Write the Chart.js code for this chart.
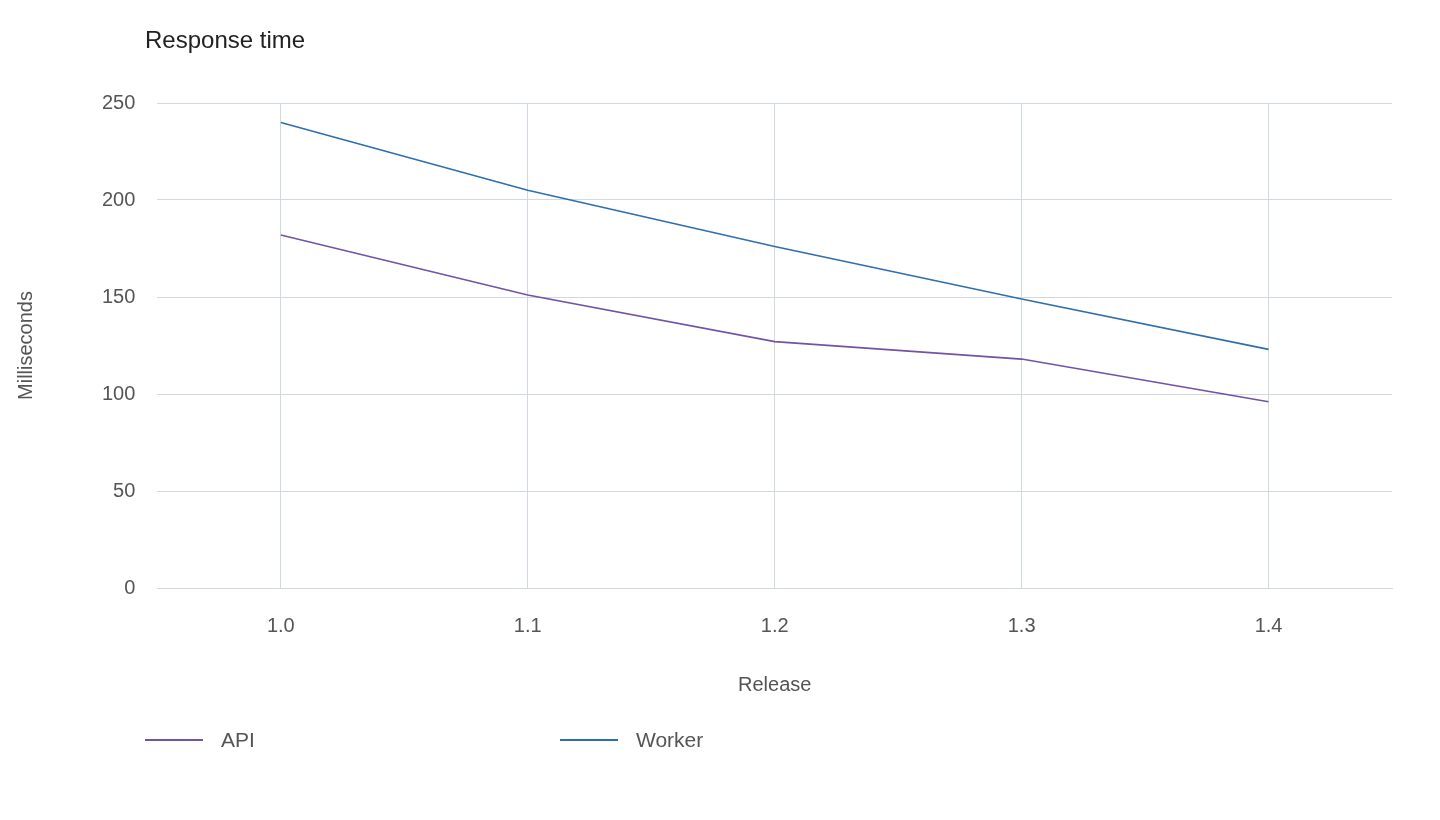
<!DOCTYPE html>
<html><head><meta charset="utf-8">
<script src="https://cdn.jsdelivr.net/npm/chart.js@4"></script>
<style>
body{margin:0;background:#fff;font-family:"Helvetica Neue",Arial,"Liberation Sans",sans-serif;}
#wrap{position:relative;width:1440px;height:820px;}
#title{position:absolute;left:145px;top:26px;font-size:24px;color:#222;}
#legend{position:absolute;top:728px;left:145px;font-size:21px;color:#555;}
.item{position:absolute;white-space:nowrap;display:flex;align-items:center;}
.sw{display:inline-block;width:58px;height:2px;margin-right:18px;}
canvas{position:absolute;left:0;top:0;}
</style></head><body>
<div id="wrap">
<canvas id="c" width="1440" height="820"></canvas>
<div id="title">Response time</div>
<div id="legend"></div>
</div>
<script>
const categories=["1.0","1.1","1.2","1.3","1.4"];
const apiValues=[182,151,127,118,96];
const workerValues=[240,205,176,149,123];
const seriesNames=["API","Worker"];
const colors=["#7352a8","#2f6fae"];
const lg=document.getElementById('legend');
[[0,0],[1,415]].forEach(([i,x])=>{const d=document.createElement('div');d.className='item';d.style.left=x+'px';d.innerHTML='<span class="sw" style="background:'+colors[i]+'"></span>'+seriesNames[i];lg.appendChild(d);});
Chart.defaults.font.family='"Helvetica Neue",Arial,"Liberation Sans",sans-serif';
new Chart(document.getElementById('c'),{type:'line',
data:{labels:categories,datasets:[
{label:seriesNames[0],data:apiValues,borderColor:colors[0],borderWidth:1.6,pointRadius:0,tension:0},
{label:seriesNames[1],data:workerValues,borderColor:colors[1],borderWidth:1.6,pointRadius:0,tension:0}]},
options:{responsive:false,animation:false,
layout:{padding:{top:103,left:10,right:48,bottom:119}},
plugins:{legend:{display:false},tooltip:{enabled:false}},
scales:{
x:{offset:true,grid:{offset:false,color:'#d0d8e2',drawTicks:false},border:{color:'#d0d8e2'},
ticks:{color:'#555',font:{size:20},padding:26},
title:{display:true,text:'Release',color:'#555',font:{size:20},padding:{top:9}}},
y:{min:0,max:250,grid:{color:'#d0d8e2',drawTicks:false},border:{display:false},
ticks:{stepSize:50,color:'#555',font:{size:20},padding:22},
title:{display:true,text:'Milliseconds',color:'#555',font:{size:20},padding:{bottom:42}}}}}});
</script>
</body></html>
